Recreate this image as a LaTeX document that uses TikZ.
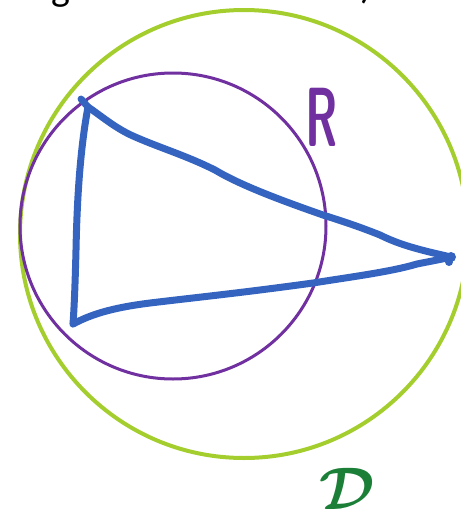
\documentclass[tikz,border=0pt]{standalone}
\usepackage{graphicx}
\usepackage{fontspec}
\newfontfamily\topfont{Carlito}
\definecolor{limeg}{HTML}{A4CE2E}
\definecolor{purp}{HTML}{7030A0}
\definecolor{bluep}{HTML}{3464C0}
\definecolor{darkg}{HTML}{1B7F38}
\tikzset{
  pen/.style={line width=7pt, line cap=round, line join=round, color=bluep},
  lbl/.style={inner sep=0pt},
}
\begin{document}
\begin{tikzpicture}[x=1pt,y=-1pt]
\useasboundingbox (0,0) rectangle (461,515);
\clip (0,0) rectangle (461,515);
% cut-off text at top
\node[lbl, anchor=base, font=\topfont\fontsize{40}{40}\selectfont] (tg) at (61,0) {g};
\node[lbl, anchor=base, font=\topfont\fontsize{40}{40}\selectfont] (tp) at (367,-2) {)};
% circles
\node[circle, draw=limeg, line width=4pt, minimum size=448pt, inner sep=0pt] (D) at (244,234) {};
\node[circle, draw=purp, line width=3pt, minimum size=306pt, inner sep=0pt] (R) at (173,226) {};
% triangle vertices
\coordinate (A) at (88,107);
\coordinate (B) at (73,324);
\coordinate (C) at (451,257);
% left side
\draw[pen] (81,99) -- (A) .. controls (80,150) and (77,200) .. (76,250) .. controls (75,290) and (74,310) .. (B);
% bottom side
\draw[pen] (B) .. controls (90,315) and (110,308) .. (150,303) .. controls (200,297) and (240,293) .. (313,283) .. controls (350,277) and (390,272) .. (417,264) .. controls (432,261) and (443,259) .. (C);
% top side
\draw[pen] (A) .. controls (100,115) and (115,128) .. (133,136) .. controls (160,148) and (185,155) .. (215,170) .. controls (240,185) and (280,200) .. (323,215) .. controls (345,222) and (360,227) .. (380,235) .. controls (400,245) and (420,250) .. (C);
\fill[bluep] (C) circle (5pt);
\fill[bluep] (449,262) circle (4pt);
% labels
\node[lbl, text=purp, anchor=center] (rl) at (322,117) {\scalebox{0.55}[1]{\sffamily\bfseries\fontsize{84}{84}\selectfont R}};
\node[lbl, text=darkg, anchor=center] (dl) at (347,489) {\scalebox{6}{\boldmath$\mathcal{D}$}};
\end{tikzpicture}
\end{document}
